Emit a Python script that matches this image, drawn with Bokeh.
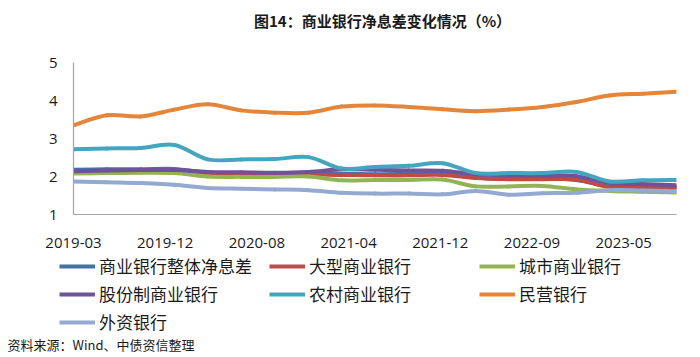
from datetime import date
from bokeh.plotting import figure
from bokeh.layouts import column
from bokeh.models import FixedTicker, Legend, LegendItem, Label, Range1d
from bokeh.embed import file_html
from bokeh.resources import INLINE

# ---------------- data ----------------
quarters = ["2019-03-31", "2019-06-30", "2019-09-30", "2019-12-31",
            "2020-03-31", "2020-06-30", "2020-09-30", "2020-12-31",
            "2021-03-31", "2021-06-30", "2021-09-30", "2021-12-31",
            "2022-03-31", "2022-06-30", "2022-09-30", "2022-12-31",
            "2023-03-31", "2023-06-30", "2023-09-30"]

overall   = [2.18, 2.19, 2.19, 2.20, 2.10, 2.09, 2.09, 2.10, 2.07, 2.06, 2.07, 2.08, 1.97, 1.94, 1.94, 1.91, 1.74, 1.74, 1.73]
large     = [2.11, 2.12, 2.12, 2.12, 2.07, 2.06, 2.05, 2.06, 2.04, 2.03, 2.03, 2.04, 1.96, 1.93, 1.93, 1.92, 1.72, 1.70, 1.69]
city      = [2.08, 2.09, 2.10, 2.09, 2.00, 1.99, 1.99, 2.00, 1.90, 1.91, 1.91, 1.92, 1.74, 1.74, 1.75, 1.66, 1.62, 1.60, 1.58]
joint     = [2.14, 2.16, 2.17, 2.17, 2.12, 2.11, 2.10, 2.12, 2.19, 2.18, 2.16, 2.15, 2.06, 2.03, 2.02, 2.01, 1.83, 1.80, 1.77]
rural     = [2.72, 2.74, 2.75, 2.83, 2.45, 2.45, 2.46, 2.51, 2.21, 2.25, 2.28, 2.35, 2.09, 2.09, 2.09, 2.12, 1.87, 1.90, 1.91]
private   = [3.35, 3.61, 3.58, 3.76, 3.90, 3.74, 3.68, 3.68, 3.84, 3.87, 3.83, 3.77, 3.72, 3.76, 3.83, 3.96, 4.13, 4.18, 4.23]
foreign   = [1.87, 1.85, 1.83, 1.78, 1.70, 1.68, 1.66, 1.64, 1.57, 1.55, 1.55, 1.53, 1.62, 1.52, 1.56, 1.57, 1.64, 1.63, 1.61]

series_names = ["商业银行整体净息差", "大型商业银行", "城市商业银行",
                "股份制商业银行", "农村商业银行", "民营银行", "外资银行"]
series_values = [overall, large, city, joint, rural, private, foreign]
series_colors = ["#4472A8", "#BE4B48", "#94B453", "#6F5297", "#45A5BF", "#E58539", "#93A9D2"]

tick_labels = ["2019-03", "2019-12", "2020-08", "2021-04", "2021-12", "2022-09", "2023-05"]
tick_step_days = 250

title_text = "图14：商业银行净息差变化情况（%）"
source_text = "资料来源：Wind、中债资信整理"

# ---------------- helpers ----------------
d0 = date.fromisoformat(quarters[0])
xs = [(date.fromisoformat(q) - d0).days for q in quarters]


def bezier_segments(x, y):
    n = len(x)
    out = dict(x0=[], y0=[], x1=[], y1=[], cx0=[], cy0=[], cx1=[], cy1=[])
    for i in range(n - 1):
        xm, ym = (x[i - 1], y[i - 1]) if i > 0 else (x[i], y[i])
        xp, yp = (x[i + 2], y[i + 2]) if i + 2 < n else (x[i + 1], y[i + 1])
        out["x0"].append(x[i]); out["y0"].append(y[i])
        out["x1"].append(x[i + 1]); out["y1"].append(y[i + 1])
        out["cx0"].append(x[i] + (x[i + 1] - xm) / 6.0)
        out["cy0"].append(y[i] + (y[i + 1] - ym) / 6.0)
        out["cx1"].append(x[i + 1] - (xp - x[i]) / 6.0)
        out["cy1"].append(y[i + 1] - (yp - y[i]) / 6.0)
    return out


def blank_figure(h):
    f = figure(width=700, height=h, output_backend="svg", toolbar_location=None,
               x_range=Range1d(0, 1), y_range=Range1d(0, 1),
               min_border=0, x_axis_type=None, y_axis_type=None)
    f.outline_line_color = None
    f.xgrid.grid_line_color = None
    f.ygrid.grid_line_color = None
    f.frame_align = False
    return f


# ---------------- title strip ----------------
top = blank_figure(40)
top.add_layout(Label(x=382, y=20, x_units="screen", y_units="screen", text=title_text,
                     text_align="center", text_baseline="middle",
                     text_font="Noto Sans CJK SC", text_font_style="bold",
                     text_font_size="15px", text_color="#1a1a1a"))

# ---------------- main chart ----------------
p = figure(width=700, height=212, output_backend="svg", toolbar_location=None,
           x_range=Range1d(xs[0], xs[-1]), y_range=Range1d(1, 5),
           min_border_left=73, min_border_right=24, min_border_top=22, min_border_bottom=38)
p.frame_align = False
p.outline_line_color = None
p.xgrid.grid_line_color = None
p.ygrid.grid_line_color = None

LINE_W = 4
for name, vals, col in zip(series_names, series_values, series_colors):
    seg = bezier_segments(xs, vals)
    p.bezier(source=seg, x0="x0", y0="y0", x1="x1", y1="y1",
             cx0="cx0", cy0="cy0", cx1="cx1", cy1="cy1",
             line_color=col, line_width=LINE_W, line_cap="round")

tick_pos = [k * tick_step_days for k in range(len(tick_labels))]
p.xaxis.ticker = FixedTicker(ticks=tick_pos)
p.xaxis.major_label_overrides = {t: lab for t, lab in zip(tick_pos, tick_labels)}
p.yaxis.ticker = FixedTicker(ticks=[1, 2, 3, 4, 5])
for ax in (p.xaxis, p.yaxis):
    ax.axis_line_color = "#A6A6A6"
    ax.axis_line_width = 1.2
    ax.major_tick_line_color = None
    ax.minor_tick_line_color = None
    ax.major_label_text_font = "Open Sans"
    ax.major_label_text_font_size = "15px"
    ax.major_label_text_color = "#1a1a1a"
p.xaxis.major_label_standoff = 17
p.yaxis.major_label_standoff = 10

# ---------------- legend + source strip ----------------
bot = blank_figure(105)
items = []
for name, vals, col in zip(series_names, series_values, series_colors):
    # legend-only renderer: the series lies outside this strip's 0..1 value range
    r = bot.line(x=xs, y=vals, line_color=col, line_width=LINE_W)
    items.append(LegendItem(label=name, renderers=[r]))
legend = Legend(items=items, orientation="horizontal", ncols=3,
                location=(59, 23),
                glyph_width=36, glyph_height=24, label_height=24, label_width=167,
                label_standoff=4, spacing=3, padding=0, margin=0,
                border_line_alpha=0, background_fill_alpha=0,
                label_text_font="Noto Sans CJK SC", label_text_font_size="17px",
                label_text_color="#1a1a1a")
bot.add_layout(legend, "center")
bot.add_layout(Label(x=7, y=13, x_units="screen", y_units="screen", text=source_text,
                     text_align="left", text_baseline="middle",
                     text_font="Noto Sans CJK SC", text_font_size="13px",
                     text_color="#1a1a1a"))

layout = column(top, p, bot, spacing=0)
open("out.html", "w").write(file_html(layout, INLINE))
